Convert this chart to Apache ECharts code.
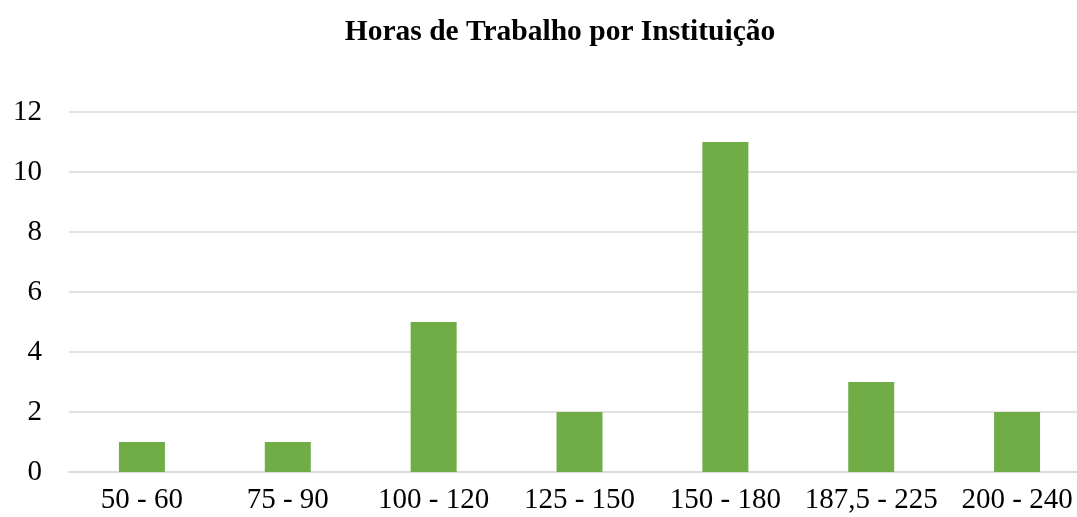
<!DOCTYPE html>
<html>
<head>
<meta charset="utf-8">
<script src="https://cdn.jsdelivr.net/npm/echarts@6/dist/echarts.min.js"></script>
<style>html,body{margin:0;padding:0;background:#fff;}#c{width:1077px;height:517px;}</style>
</head>
<body>
<div id="c"></div>
<script>
var categories = ['50 - 60', '75 - 90', '100 - 120', '125 - 150', '150 - 180', '187,5 - 225', '200 - 240'];
var values = [1, 1, 5, 2, 11, 3, 2];
var titleText = 'Horas de Trabalho por Instituição';

var chart = echarts.init(document.getElementById('c'));
chart.setOption({
  animation: false,
  backgroundColor: '#ffffff',
  title: {
    text: titleText,
    left: 555, top: 12, textAlign: 'center',
    textStyle: { fontFamily: 'Liberation Serif', fontWeight: 'bold', fontSize: 29.5, color: '#000' }
  },
  grid: { left: 69, top: 112, width: 1021, height: 360, containLabel: false, outerBoundsMode: 'none' },
  xAxis: {
    type: 'category', data: categories,
    axisLine: { lineStyle: { color: '#d9d9d9', width: 1.5 } },
    axisTick: { show: false },
    axisLabel: { interval: 0, fontFamily: 'Liberation Serif', fontSize: 29, color: '#000', margin: 14 }
  },
  yAxis: {
    type: 'value', min: 0, max: 12, interval: 2,
    axisLine: { show: false }, axisTick: { show: false },
    splitLine: { lineStyle: { color: '#d9d9d9', width: 1.5 } },
    axisLabel: { fontFamily: 'Liberation Serif', fontSize: 29, color: '#000', margin: 27 }
  },
  series: [{
    type: 'bar', data: values, barWidth: 46,
    itemStyle: { color: '#70ad47' }
  }]
});
</script>
</body>
</html>
